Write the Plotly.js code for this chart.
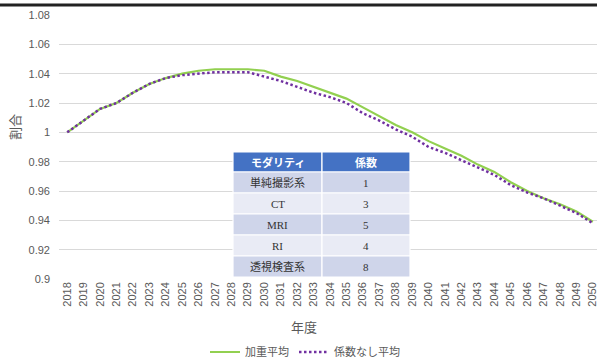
<!DOCTYPE html>
<html>
<head>
<meta charset="utf-8">
<script src="https://cdn.plot.ly/plotly-3.0.1.min.js"></script>
<style>html,body{margin:0;padding:0;background:#fff;}#chart{width:597px;height:358px;}</style>
</head>
<body>
<div id="chart"></div>
<script>
const years = ["2018","2019","2020","2021","2022","2023","2024","2025","2026","2027","2028","2029","2030","2031","2032","2033","2034","2035","2036","2037","2038","2039","2040","2041","2042","2043","2044","2045","2046","2047","2048","2049","2050"];
const weightedAvg = [1.000,1.008,1.016,1.020,1.027,1.033,1.037,1.040,1.042,1.043,1.043,1.043,1.042,1.038,1.035,1.031,1.027,1.023,1.017,1.011,1.005,1.000,0.994,0.989,0.984,0.978,0.973,0.966,0.960,0.955,0.951,0.946,0.939];
const plainAvg = [1.000,1.008,1.016,1.020,1.027,1.033,1.037,1.039,1.040,1.041,1.041,1.041,1.038,1.035,1.031,1.027,1.024,1.020,1.013,1.008,1.002,0.997,0.990,0.986,0.981,0.976,0.971,0.964,0.959,0.955,0.950,0.945,0.938];
const yTickVals = [0.9,0.92,0.94,0.96,0.98,1.0,1.02,1.04,1.06,1.08];
const yTickText = ["0.9","0.92","0.94","0.96","0.98","1","1.02","1.04","1.06","1.08"];
const xTitle = "年度";
const yTitle = "割合";
const tableHeader = ["モダリティ","係数"];
const modalities = ["単純撮影系","CT","MRI","RI","透視検査系"];
const coefficients = ["1","3","5","4","8"];

const gray = "#595959";
const W = 597, H = 358, L = 59, T = 15, B = 79;
const pw = W - L, ph = H - T - B;
const px = x => (x - L) / pw;
const py = y => (H - B - y) / ph;

// table geometry (pixels)
const colEdges = [233, 322, 410];
const rowEdges = [152, 172, 193, 214, 235, 256, 277];
const darkRow = "#CFD5EA", lightRow = "#E9EBF5";

const shapes = [
  {type: "line", xref: "paper", yref: "paper", x0: px(0), x1: px(597), y0: py(5), y1: py(5),
   line: {color: "#222222", width: 3}}
];
const annotations = [
  {xref: "paper", yref: "paper", x: px(304), y: py(326), text: xTitle, showarrow: false,
   xanchor: "center", yanchor: "middle", font: {size: 13, color: gray}},
  {xref: "paper", yref: "paper", x: px(15), y: py(127), text: yTitle, showarrow: false,
   textangle: -90, xanchor: "center", yanchor: "middle", font: {size: 13, color: gray}}
];

const tableCols = [[tableHeader[0]].concat(modalities), [tableHeader[1]].concat(coefficients)];
tableCols.forEach((col, c) => {
  col.forEach((val, r) => {
    const fill = r === 0 ? "#4472C4" : (r % 2 === 1 ? darkRow : lightRow);
    shapes.push({
      type: "rect", xref: "paper", yref: "paper", layer: "above",
      x0: px(colEdges[c]), x1: px(colEdges[c + 1]),
      y0: py(rowEdges[r + 1]), y1: py(rowEdges[r]),
      fillcolor: fill, line: {color: "#ffffff", width: 1.2}
    });
    annotations.push({
      xref: "paper", yref: "paper",
      x: px((colEdges[c] + colEdges[c + 1]) / 2), y: py((rowEdges[r] + rowEdges[r + 1]) / 2),
      text: r === 0 ? "<b>" + val + "</b>" : val, showarrow: false,
      xanchor: "center", yanchor: "middle",
      font: r === 0
        ? {size: 11, color: "#ffffff", family: "Noto Sans CJK JP, sans-serif"}
        : {size: 11, color: "#333333", family: "Liberation Serif, Noto Sans CJK JP, serif"}
    });
  });
});

const traces = [
  {
    type: "scatter", mode: "lines", name: "加重平均",
    x: years, y: weightedAvg,
    line: {color: "#92D050", width: 2.2}
  },
  {
    type: "scatter", mode: "lines", name: "係数なし平均",
    x: years, y: plainAvg,
    line: {color: "#7030A0", width: 2.5, dash: "2.5px,2.5px"}
  }
];

const layout = {
  width: W, height: H,
  margin: {l: L, r: 0, t: T, b: B, pad: 0, autoexpand: false},
  paper_bgcolor: "#ffffff", plot_bgcolor: "#ffffff",
  font: {family: "Noto Sans CJK JP, sans-serif", color: gray, size: 11},
  showlegend: true,
  legend: {
    orientation: "h", xref: "container", yref: "container",
    x: 305 / W, xanchor: "center", y: (H - 352) / H, yanchor: "middle",
    font: {size: 11, color: gray}, itemwidth: 30, traceorder: "normal"
  },
  xaxis: {
    type: "category", range: [-0.5, 32.25],
    tickangle: -90, tickfont: {size: 11, color: gray, family: "Liberation Sans, Arial, sans-serif"},
    showgrid: false, zeroline: false, showline: false, ticks: "", ticklen: 0,
    automargin: false, fixedrange: true
  },
  yaxis: {
    range: [0.9, 1.08], tickvals: yTickVals, ticktext: yTickText,
    tickfont: {size: 11, color: gray, family: "Liberation Sans, Arial, sans-serif"},
    showgrid: true, gridcolor: "#D9D9D9", gridwidth: 1,
    zeroline: false, showline: false, ticks: "", ticklabelstandoff: 8,
    automargin: false, fixedrange: true
  },
  shapes: shapes,
  annotations: annotations
};

Plotly.newPlot("chart", traces, layout, {staticPlot: true, displayModeBar: false});
</script>
</body>
</html>
